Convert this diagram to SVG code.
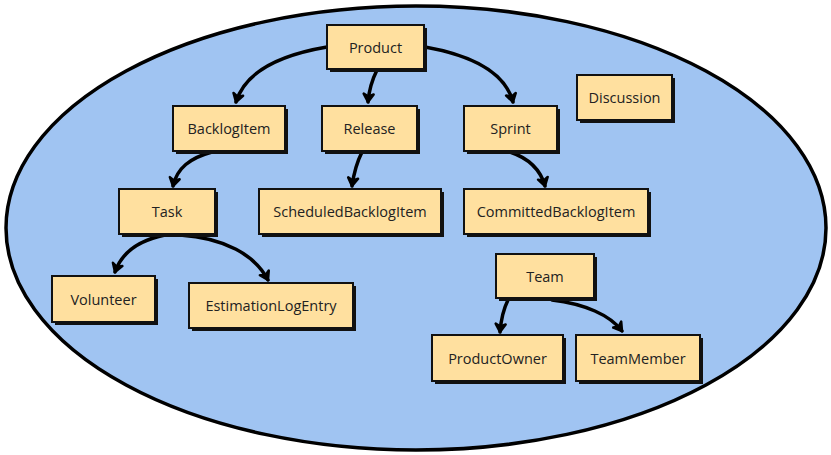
<svg xmlns="http://www.w3.org/2000/svg" width="831" height="455" viewBox="0 0 831 455">
<style>
.box{fill:#FFE09F;stroke:#111;stroke-width:2}
.sh{fill:#111}
.t{font-family:"Open Sans",sans-serif;font-size:14.5px;fill:#222;text-anchor:middle;dominant-baseline:central}
.c{fill:none;stroke:#000;stroke-width:3.5;stroke-linecap:round;marker-end:url(#ah)}
</style>
<defs>
<marker id="ah" viewBox="0 0 14 14" refX="11" refY="7" markerWidth="14" markerHeight="14" markerUnits="userSpaceOnUse" orient="auto">
<path d="M3,2 L11,7 L3,12 L5.5,7 Z" fill="#000" stroke="#000" stroke-width="2.5" stroke-linejoin="round"/>
</marker>
</defs>
<ellipse cx="416" cy="228" rx="410" ry="222" fill="#A0C4F2" stroke="#000" stroke-width="3.5"/>
<g id="connectors">
<path class="c" d="M327,47 C280,55 245,72 236,102"/>
<path class="c" d="M377,70 C372,80 369,90 368,102"/>
<path class="c" d="M425,47 C470,55 505,72 513,102"/>
<path class="c" d="M212,152 C190,158 177,168 173,186"/>
<path class="c" d="M362,152 C357,162 354,172 352,186"/>
<path class="c" d="M510,152 C528,158 540,168 545,186"/>
<path class="c" d="M165,235 C140,240 122,252 115,272"/>
<path class="c" d="M180,235 C225,238 255,255 268,280"/>
<path class="c" d="M508,300 C503,310 501,320 500,332"/>
<path class="c" d="M552,300 C585,304 610,315 622,331"/>
</g>
<g id="product"><rect class="sh" x="330" y="28" width="97" height="44"/><rect class="box" x="327" y="25" width="97" height="44"/><text class="t" x="375.5" y="47">Product</text></g>
<g id="backlogitem"><rect class="sh" x="176" y="109" width="112" height="45"/><rect class="box" x="173" y="106" width="112" height="45"/><text class="t" x="229" y="128.5">BacklogItem</text></g>
<g id="release"><rect class="sh" x="325" y="109" width="95" height="45"/><rect class="box" x="322" y="106" width="95" height="45"/><text class="t" x="369.5" y="128.5">Release</text></g>
<g id="sprint"><rect class="sh" x="467" y="109" width="93" height="45"/><rect class="box" x="464" y="106" width="93" height="45"/><text class="t" x="510.5" y="128.5">Sprint</text></g>
<g id="discussion"><rect class="sh" x="580" y="78" width="95" height="45"/><rect class="box" x="577" y="75" width="95" height="45"/><text class="t" x="624.5" y="97.5">Discussion</text></g>
<g id="task"><rect class="sh" x="122" y="192" width="96" height="45"/><rect class="box" x="119" y="189" width="96" height="45"/><text class="t" x="167" y="211.5">Task</text></g>
<g id="scheduledbacklogitem"><rect class="sh" x="262" y="192" width="182" height="45"/><rect class="box" x="259" y="189" width="182" height="45"/><text class="t" x="350" y="211.5">ScheduledBacklogItem</text></g>
<g id="committedbacklogitem"><rect class="sh" x="467" y="192" width="184" height="45"/><rect class="box" x="464" y="189" width="184" height="45"/><text class="t" x="556" y="211.5">CommittedBacklogItem</text></g>
<g id="volunteer"><rect class="sh" x="55" y="279" width="103" height="46"/><rect class="box" x="52" y="276" width="103" height="46"/><text class="t" x="103.5" y="299">Volunteer</text></g>
<g id="estimationlogentry"><rect class="sh" x="192" y="286" width="164" height="45"/><rect class="box" x="189" y="283" width="164" height="45"/><text class="t" x="271" y="305.5">EstimationLogEntry</text></g>
<g id="team"><rect class="sh" x="499" y="257" width="98" height="44"/><rect class="box" x="496" y="254" width="98" height="44"/><text class="t" x="545" y="276">Team</text></g>
<g id="productowner"><rect class="sh" x="435" y="338" width="131" height="46"/><rect class="box" x="432" y="335" width="131" height="46"/><text class="t" x="497.5" y="358">ProductOwner</text></g>
<g id="teammember"><rect class="sh" x="579" y="338" width="124" height="46"/><rect class="box" x="576" y="335" width="124" height="46"/><text class="t" x="638" y="358">TeamMember</text></g>
</svg>
